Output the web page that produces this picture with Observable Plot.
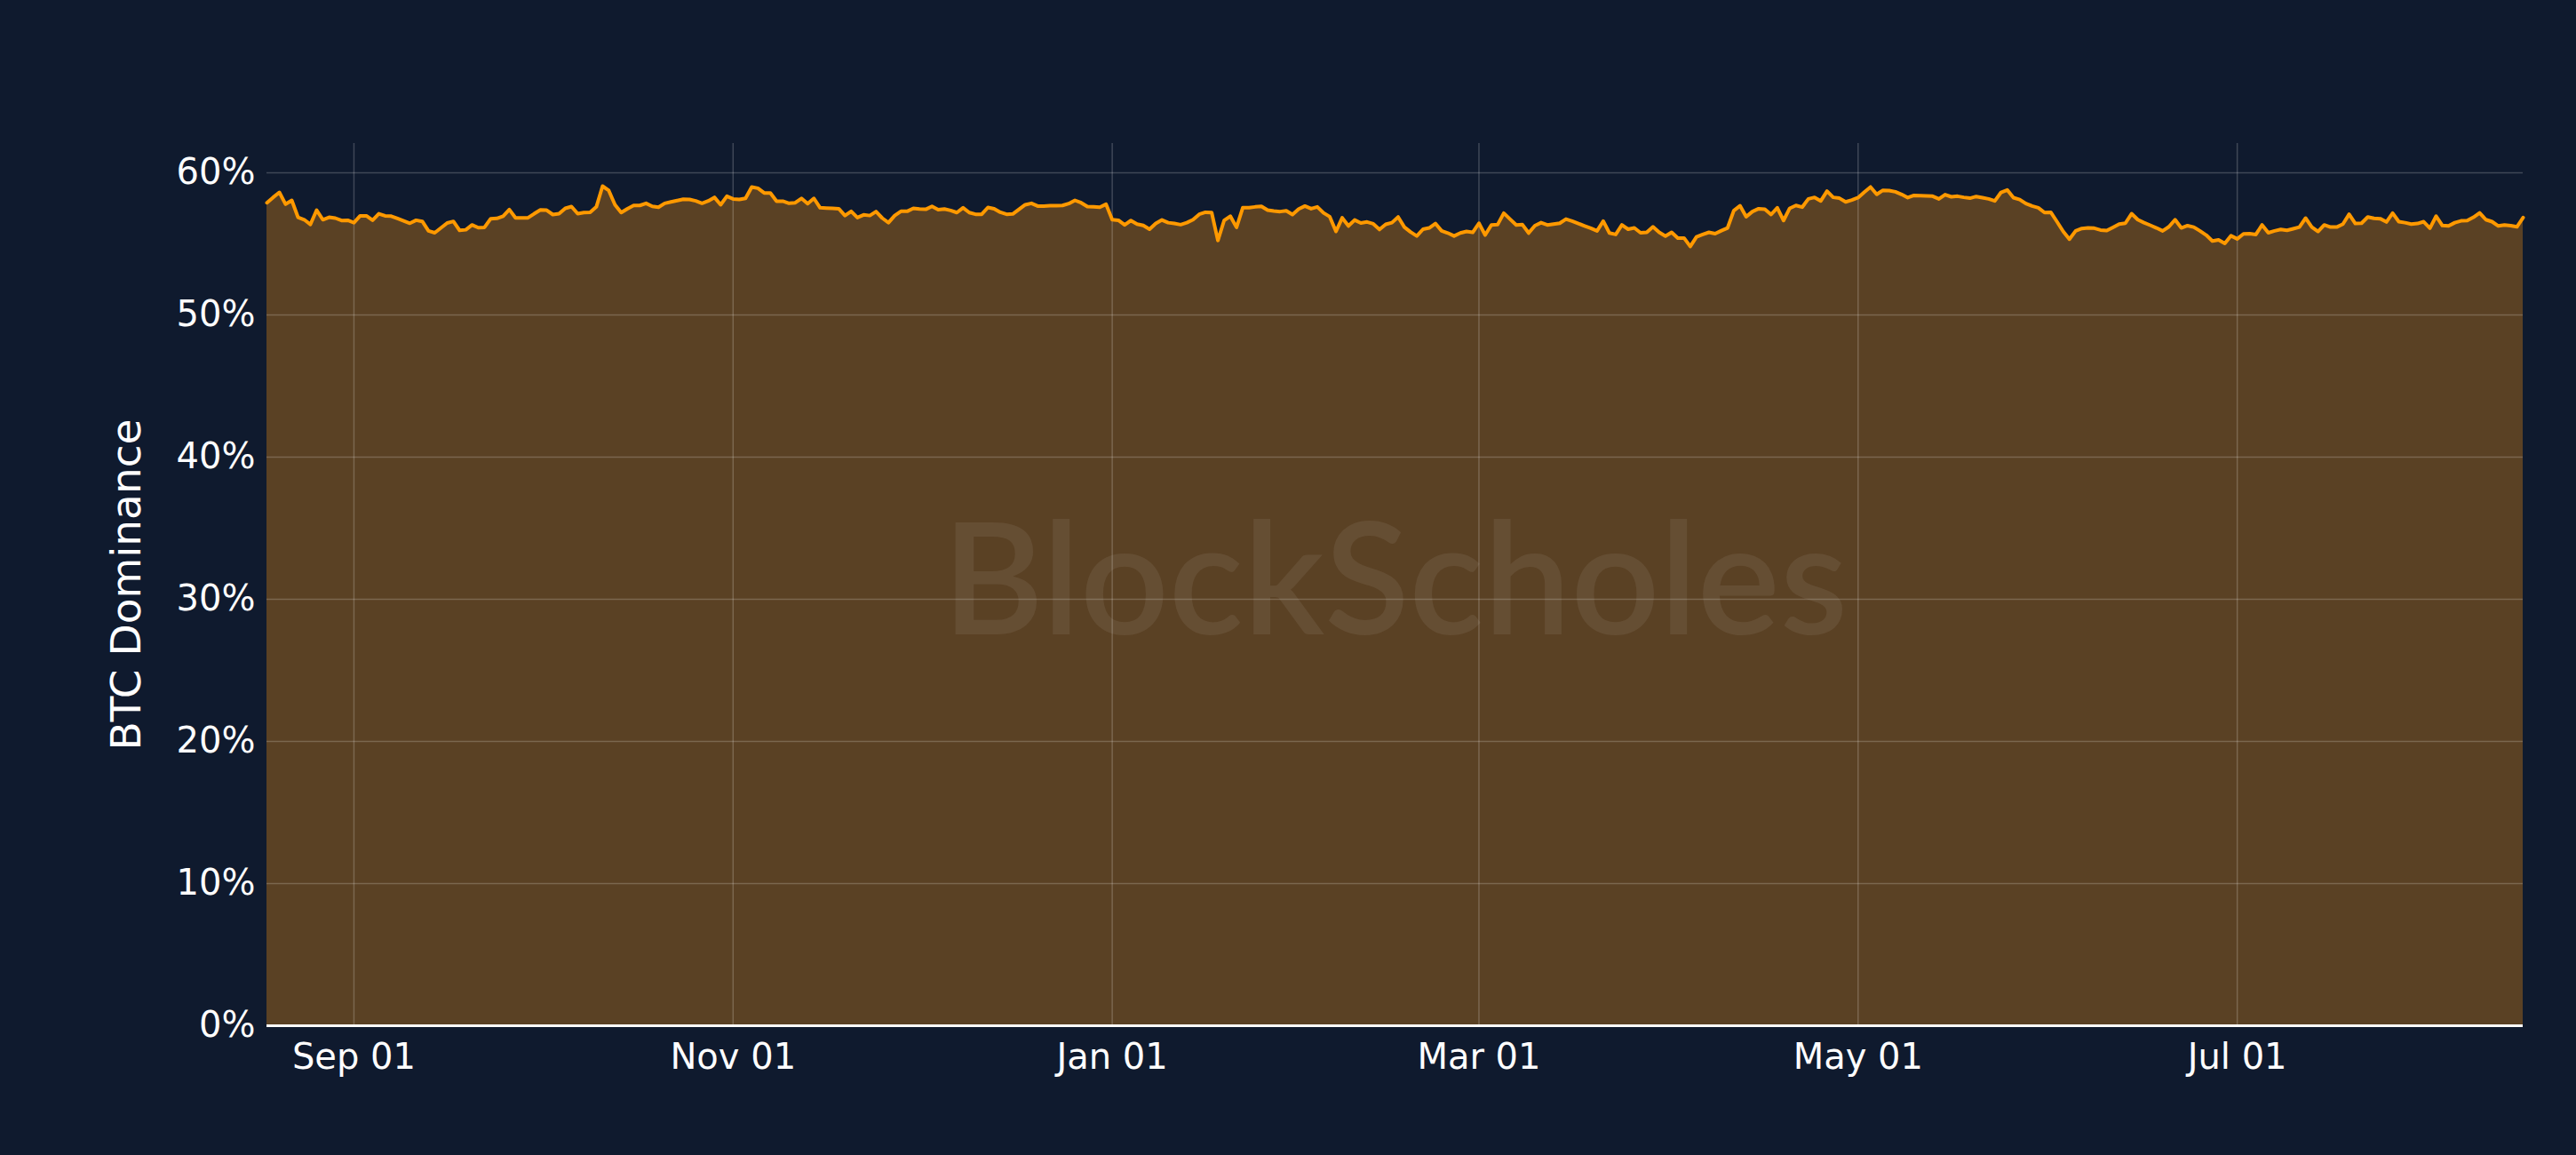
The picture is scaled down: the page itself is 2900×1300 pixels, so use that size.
<!DOCTYPE html>
<html>
<head>
<meta charset="utf-8">
<script src="https://cdn.jsdelivr.net/npm/d3@7"></script>
<script src="https://cdn.jsdelivr.net/npm/@observablehq/plot@0.6"></script>
<style>
  html, body { margin: 0; padding: 0; background: #0f1a2e; }
</style>
</head>
<body>
<div id="chart"></div>
<script>
// daily BTC dominance (%), first day 2024-08-18, last day 2025-08-16
const startDay = "2024-08-18";
const dominance = [
  57.89, 58.27, 58.62, 57.79, 58.06, 56.87, 56.70, 56.37, 57.37, 56.70,
  56.87, 56.81, 56.64, 56.66, 56.49, 56.97, 56.97, 56.66, 57.12, 56.97,
  56.95, 56.79, 56.62, 56.45, 56.66, 56.58, 55.91, 55.78, 56.12, 56.47,
  56.58, 55.95, 55.99, 56.33, 56.14, 56.16, 56.77, 56.79, 56.95, 57.41,
  56.83, 56.83, 56.83, 57.12, 57.39, 57.37, 57.06, 57.12, 57.50, 57.62,
  57.12, 57.20, 57.22, 57.60, 59.06, 58.75, 57.75, 57.20, 57.47, 57.70,
  57.70, 57.85, 57.64, 57.58, 57.85, 57.95, 58.04, 58.14, 58.12, 58.02,
  57.85, 58.02, 58.27, 57.75, 58.35, 58.16, 58.12, 58.20, 59.00, 58.91,
  58.58, 58.58, 58.00, 58.00, 57.85, 57.89, 58.20, 57.83, 58.20, 57.54,
  57.52, 57.50, 57.47, 56.99, 57.29, 56.85, 57.04, 56.99, 57.27, 56.81,
  56.49, 56.99, 57.29, 57.29, 57.50, 57.45, 57.43, 57.64, 57.41, 57.45,
  57.35, 57.20, 57.54, 57.20, 57.08, 57.08, 57.56, 57.47, 57.22, 57.08,
  57.10, 57.43, 57.75, 57.85, 57.66, 57.66, 57.68, 57.68, 57.70, 57.83,
  58.06, 57.89, 57.62, 57.60, 57.58, 57.79, 56.70, 56.66, 56.33, 56.64,
  56.39, 56.29, 56.03, 56.43, 56.68, 56.49, 56.43, 56.35, 56.49, 56.70,
  57.08, 57.22, 57.20, 55.24, 56.64, 56.95, 56.16, 57.54, 57.54, 57.60,
  57.64, 57.37, 57.31, 57.27, 57.33, 57.06, 57.45, 57.66, 57.47, 57.60,
  57.18, 56.91, 55.87, 56.83, 56.26, 56.68, 56.47, 56.54, 56.41, 56.01,
  56.37, 56.49, 56.89, 56.18, 55.83, 55.55, 56.03, 56.12, 56.43, 55.91,
  55.76, 55.55, 55.76, 55.87, 55.81, 56.45, 55.62, 56.33, 56.35, 57.16,
  56.74, 56.33, 56.35, 55.76, 56.28, 56.49, 56.33, 56.39, 56.45, 56.74,
  56.60, 56.43, 56.26, 56.10, 55.91, 56.60, 55.76, 55.66, 56.33, 56.03,
  56.12, 55.78, 55.81, 56.20, 55.81, 55.55, 55.81, 55.41, 55.41, 54.82,
  55.49, 55.66, 55.81, 55.72, 55.93, 56.12, 57.33, 57.68, 56.91, 57.27,
  57.47, 57.43, 57.06, 57.54, 56.64, 57.50, 57.70, 57.58, 58.16, 58.27,
  58.02, 58.71, 58.27, 58.21, 57.95, 58.08, 58.25, 58.64, 59.00, 58.48,
  58.77, 58.75, 58.66, 58.48, 58.25, 58.41, 58.39, 58.37, 58.35, 58.16,
  58.46, 58.31, 58.35, 58.27, 58.21, 58.33, 58.25, 58.16, 58.02, 58.62,
  58.79, 58.25, 58.12, 57.83, 57.66, 57.54, 57.20, 57.22, 56.56, 55.87,
  55.33, 55.91, 56.08, 56.12, 56.10, 55.97, 55.93, 56.16, 56.39, 56.45,
  57.12, 56.70, 56.49, 56.31, 56.12, 55.91, 56.20, 56.70, 56.12, 56.28,
  56.18, 55.91, 55.62, 55.20, 55.28, 55.03, 55.57, 55.35, 55.70, 55.72,
  55.66, 56.33, 55.78, 55.91, 56.01, 55.95, 56.06, 56.18, 56.81, 56.18,
  55.87, 56.33, 56.18, 56.18, 56.39, 57.08, 56.43, 56.45, 56.89, 56.79,
  56.77, 56.54, 57.16, 56.56, 56.49, 56.39, 56.43, 56.56, 56.10, 56.95,
  56.29, 56.26, 56.49, 56.62, 56.64, 56.87, 57.18, 56.70, 56.56, 56.26,
  56.33, 56.28, 56.20, 56.85
];
const yTicks = [0, 10, 20, 30, 40, 50, 60];
const yTitle = "BTC Dominance";
const watermark = "BlockScholes";

const start = new Date(startDay + "T00:00:00Z");
const data = dominance.map((v, i) => ({date: d3.utcDay.offset(start, i), value: v}));
const end = data[data.length - 1].date;

const orange = "#ff9900";
const fillBrown = "#5a4124";

const chart = Plot.plot({
  width: 2900,
  height: 1300,
  marginLeft: 300,
  marginRight: 60,
  marginTop: 161,
  marginBottom: 146,
  style: {
    background: "#0f1a2e",
    color: "white",
    fontFamily: "DejaVu Sans, sans-serif",
    fontSize: "40px"
  },
  x: {type: "utc", domain: [start, end]},
  y: {domain: [0, 62.06]},
  marks: [
    Plot.areaY(data, {x: "date", y: "value", fill: fillBrown}),
    Plot.text([watermark], {
      text: (d) => d,
      frameAnchor: "middle",
      fontFamily: "Lato, sans-serif",
      fontSize: 175,
      fontWeight: 600,
      fill: "white",
      fillOpacity: 0.07
    }),
    Plot.gridX({ticks: d3.utcMonth.every(2), stroke: "white", strokeOpacity: 0.2, strokeWidth: 1.5}),
    Plot.gridY(yTicks.slice(1), {stroke: "white", strokeOpacity: 0.2, strokeWidth: 1.5}),
    Plot.axisX({
      ticks: d3.utcMonth.every(2),
      tickFormat: d3.utcFormat("%b %d"),
      tickSize: 0,
      tickPadding: 20,
      fill: "white",
      label: null
    }),
    Plot.axisY({
      ticks: yTicks,
      tickFormat: (d) => d + "%",
      tickSize: 0,
      tickPadding: 13,
      fill: "white",
      label: null
    }),
    Plot.text([yTitle], {
      text: (d) => d,
      frameAnchor: "left",
      rotate: -90,
      dx: -158,
      fontSize: 47,
      fill: "white",
      textAnchor: "middle",
      lineAnchor: "middle"
    }),
    Plot.lineY(data, {x: "date", y: "value", stroke: orange, strokeWidth: 4}),
    Plot.ruleY([0], {stroke: "white", strokeWidth: 3})
  ]
});

document.getElementById("chart").append(chart);
</script>
</body>
</html>
